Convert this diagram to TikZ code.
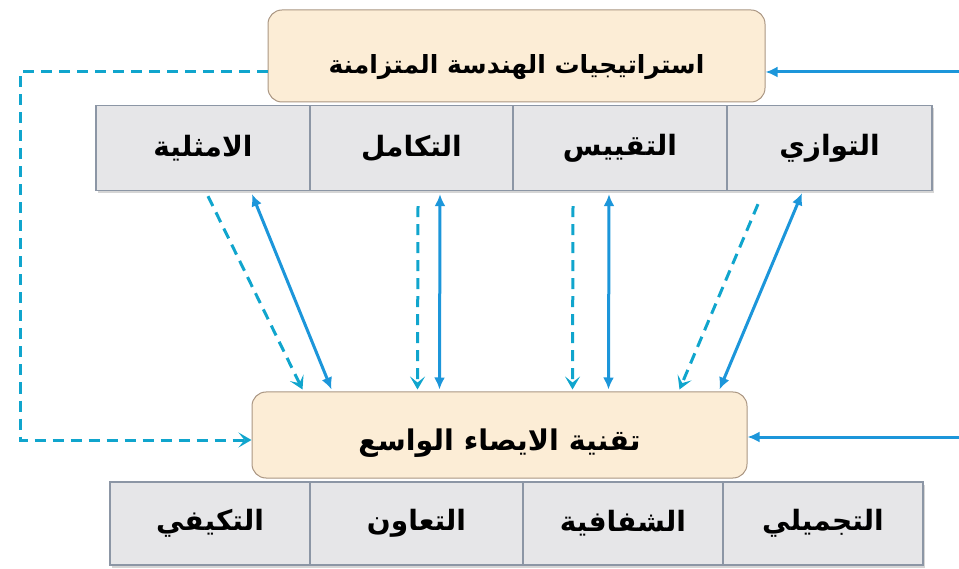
\documentclass[tikz,border=0pt]{standalone}
\usepackage{fontspec}
\usetikzlibrary{arrows.meta,shadows}
\TeXXeTstate=1
\newfontfamily\arabicfont[Script=Arabic]{DejaVu Sans}
\definecolor{linkblue}{RGB}{28,150,218}
\definecolor{dashblue}{RGB}{16,165,205}
\definecolor{cellgray}{RGB}{230,230,232}
\definecolor{cellrule}{RGB}{140,150,165}
\definecolor{headfill}{RGB}{252,237,214}
\definecolor{headrule}{RGB}{170,150,130}
\tikzset{
	cell/.style={draw=cellrule, line width=1.3pt, fill=cellgray, inner sep=0pt,
		font=\arabicfont\bfseries\fontsize{28}{32}\selectfont,
		drop shadow={shadow xshift=1.5pt, shadow yshift=-2.5pt, fill=gray!65}},
	headbox/.style={draw=headrule, line width=1pt, fill=headfill, rounded corners=14pt, inner sep=0pt,
		font=\arabicfont\bfseries\fontsize{25}{30}\selectfont},
	solidlink/.style={linkblue, line width=3pt, {Latex[length=12pt,width=11pt]}-{Latex[length=12pt,width=11pt]}},
	dashlink/.style={dashblue, line width=3pt, dash pattern=on 11pt off 7pt, -{Stealth[length=13pt,width=15pt,inset=6pt]}},
	feedlink/.style={linkblue, line width=3pt, -{Latex[length=12pt,width=11pt]}}
}
\begin{document}
\begin{tikzpicture}[x=1pt, y=-1pt]
	\useasboundingbox (0,0) rectangle (959,569);
	% strategy row
	\foreach \name/\cx/\w/\txt in {opt/203/214/الامثلية, integ/411.5/203/التكامل, std/620/214/التقييس, par/829.5/205/التوازي}
		\node[cell, minimum width=\w pt, minimum height=85pt] (\name) at (\cx,148) {\beginR\txt\endR};
	% enterprise row
	\foreach \name/\cx/\w/\txt in {adapt/210/200/التكيفي, coop/416.5/213/التعاون, transp/623/200/الشفافية, beaut/823/200/التجميلي}
		\node[cell, minimum width=\w pt, minimum height=83pt] (\name) at (\cx,523.5) {\beginR\txt\endR};
	\node[headbox, minimum width=497pt, minimum height=92pt, text height=42pt, text depth=6pt] (top) at (516.5,56) {\beginR استراتيجيات الهندسة المتزامنة\endR};
	\node[headbox, minimum width=495pt, minimum height=86pt, text height=38pt, text depth=7pt, font=\arabicfont\bfseries\fontsize{28.5}{32}\selectfont] (low) at (499.5,435) {\beginR تقنية الايصاء الواسع\endR};

	% links between the two levels
	\draw[dashlink] ([xshift=5pt,yshift=-5pt]opt.south) -- ([xshift=51pt,yshift=2pt]low.north west);
	\draw[solidlink] ([xshift=49pt,yshift=-3pt]opt.south) -- ([xshift=80pt,yshift=2pt]low.north west);
	\draw[dashlink] ([xshift=6.5pt,yshift=-15pt]integ.south) -- ([xshift=166pt,yshift=2pt]low.north west);
	\draw[solidlink] ([xshift=28.5pt,yshift=-3pt]integ.south) -- ([xshift=188pt,yshift=2pt]low.north west);
	\draw[dashlink] ([xshift=-47pt,yshift=-15pt]std.south) -- ([xshift=321pt,yshift=2pt]low.north west);
	\draw[solidlink] ([xshift=-11pt,yshift=-3pt]std.south) -- ([xshift=357pt,yshift=2pt]low.north west);
	\draw[dashlink] ([xshift=-71.5pt,yshift=-13pt]par.south) -- ([xshift=428pt,yshift=2pt]low.north west);
	\draw[solidlink] ([xshift=-27.5pt,yshift=-2pt]par.south) -- ([xshift=468pt,yshift=2pt]low.north west);

	% feedback loops
	\coordinate (lc) at (20,440);
	\coordinate (rt) at (959,72);
	\coordinate (rb) at (959,437);
	\draw[dashlink] ([yshift=-16pt]top.west) -| (lc) -- ([yshift=-5pt]low.west);
	\draw[feedlink] (rt) -- ([yshift=-16pt]top.east);
	\draw[feedlink] (rb) -- ([yshift=-2pt]low.east);
\end{tikzpicture}
\end{document}
